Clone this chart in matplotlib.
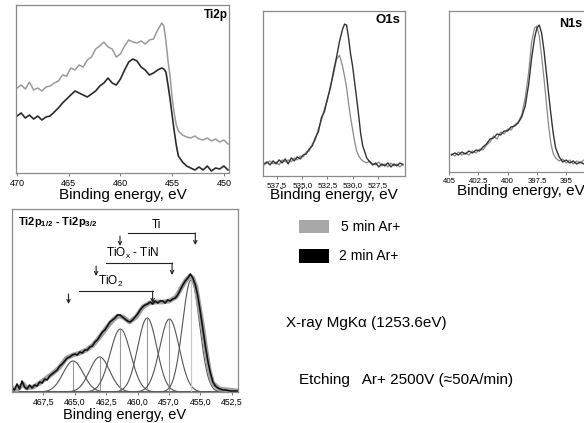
import numpy as np
import matplotlib.pyplot as plt
from matplotlib.patches import Rectangle

W, H = 584, 423
plt.rcParams['font.family'] = ['Liberation Sans', 'DejaVu Sans']
plt.rcParams['mathtext.fontset'] = 'custom'
plt.rcParams['mathtext.rm'] = 'Liberation Sans'
plt.rcParams['mathtext.bf'] = 'Liberation Sans:bold'

# ---- Ti2p survey (top left) ----
ti_e = [470.0, 469.6, 469.2, 468.8, 468.4, 468.0, 467.6, 467.2, 466.8, 466.4, 466.0,
        465.6, 465.2, 464.8, 464.4, 464.0, 463.6, 463.2, 462.8, 462.4, 462.0, 461.6,
        461.2, 460.8, 460.4, 460.0, 459.6, 459.2, 458.8, 458.4, 458.0, 457.6, 457.2,
        456.8, 456.4, 456.0, 455.8, 455.6, 455.4, 455.2, 455.0, 454.8, 454.6, 454.4,
        454.0, 453.6, 453.2, 452.8, 452.4, 452.0, 451.6, 451.2, 450.8, 450.4, 450.0, 449.6]
ti_5min = [85, 88, 84, 91, 83, 85, 82, 86, 87, 90, 92,
           98, 97, 105, 103, 108, 106, 113, 116, 124, 127, 131,
           126, 124, 116, 119, 127, 133, 131, 130, 132, 129, 133,
           134, 143, 150, 147, 132, 112, 97, 75, 60, 48, 42,
           38, 36, 35, 37, 34, 33, 35, 32, 34, 31, 33, 29]
ti_2min = [57, 60, 55, 58, 54, 57, 53, 56, 57, 61, 65,
           70, 74, 78, 82, 80, 78, 76, 79, 82, 87, 90,
           95, 90, 88, 94, 103, 111, 114, 112, 106, 103, 98,
           100, 103, 105, 104, 101, 88, 74, 58, 42, 28, 17,
           11, 7, 5, 3, 6, 3, 7, 2, 5, 4, 7, 3]

# ---- O1s ----
o_e = [538.8, 538.5, 538.2, 537.9, 537.6, 537.3, 537.0, 536.7, 536.4, 536.1, 535.8,
       535.5, 535.2, 534.9, 534.6, 534.3, 534.0, 533.7, 533.4, 533.1, 532.8, 532.5,
       532.2, 531.9, 531.6, 531.3, 531.0, 530.8, 530.6, 530.4, 530.2, 530.0, 529.8,
       529.6, 529.4, 529.2, 529.0, 528.8, 528.6, 528.3, 528.0, 527.7, 527.4, 527.1,
       526.8, 526.5, 526.2, 525.9, 525.6, 525.3, 525.0]
o_2min = [12, 14, 11, 15, 12, 16, 13, 17, 12, 18, 15,
          19, 17, 21, 22, 27, 30, 38, 44, 58, 64, 77,
          88, 104, 118, 134, 146, 151, 150, 137, 121, 109, 93,
          77, 60, 42, 30, 24, 18, 14, 11, 13, 9, 12,
          10, 13, 9, 12, 10, 13, 11]
o_5min = [11, 13, 15, 12, 14, 11, 16, 14, 16, 14, 18,
          16, 20, 19, 24, 25, 32, 36, 47, 55, 67, 75,
          90, 101, 116, 120, 109, 99, 88, 72, 58, 46, 34,
          25, 20, 17, 15, 14, 13, 15, 12, 11, 14, 10,
          12, 9, 13, 10, 12, 9, 12]

# ---- N1s ----
n_e = [404.8, 404.5, 404.2, 403.9, 403.6, 403.3, 403.0, 402.7, 402.4, 402.1, 401.8,
       401.5, 401.2, 400.9, 400.6, 400.3, 400.0, 399.7, 399.4, 399.1, 398.8, 398.5,
       398.2, 397.95, 397.7, 397.5, 397.3, 397.1, 396.9, 396.7, 396.5, 396.3, 396.1,
       395.9, 395.6, 395.3, 395.0, 394.7, 394.4, 394.1, 393.8, 393.5, 393.2]
n_5min = [18, 16, 20, 17, 19, 17, 21, 19, 23, 22, 27,
          30, 36, 33, 40, 38, 43, 42, 47, 50, 57, 74,
          100, 130, 144, 146, 136, 116, 94, 70, 46, 28, 18,
          14, 11, 13, 9, 12, 8, 11, 9, 12, 10]
n_2min = [17, 19, 17, 20, 18, 21, 19, 22, 21, 25, 28,
          33, 34, 38, 37, 41, 41, 45, 46, 49, 55, 66,
          88, 114, 134, 144, 147, 139, 122, 100, 78, 57, 38,
          24, 15, 10, 12, 9, 11, 8, 10, 8, 11]

# ---- Ti2p deconvolution (bottom left) ----
fit_e = [470.0, 469.63, 469.37, 469.1, 468.84, 468.31, 467.78, 467.25, 466.72, 466.19,
         465.66, 465.13, 464.6, 464.07, 463.54, 463.02, 462.49, 461.96, 461.56, 461.17,
         460.64, 460.11, 459.58, 459.05, 458.52, 457.99, 457.46, 456.93, 456.53, 456.13,
         455.81, 455.6, 455.34, 455.08, 454.81, 454.55, 454.29, 454.02, 453.49, 452.7, 452.0]
fit_y = [4, 2, 5, 8, 4, 5, 9, 14, 19, 25,
         34, 37, 39, 42, 47, 55, 64, 72, 76, 75,
         70, 75, 85, 89, 90, 90, 91, 95, 104, 112,
         116, 114, 105, 85, 65, 42, 22, 9, 3, 2, 1]
meas_e = [470.0, 469.8, 469.6, 469.4, 469.2, 469.0, 468.8, 468.6, 468.4, 468.2, 468.0,
          467.8, 467.6, 467.4, 467.2, 467.0, 466.8, 466.6, 466.4, 466.2, 466.0, 465.8,
          465.6, 465.4, 465.2, 465.0, 464.8, 464.6, 464.4, 464.2, 464.0, 463.8, 463.6,
          463.4, 463.2, 463.0, 462.8, 462.6, 462.4, 462.2, 462.0, 461.8, 461.6, 461.4,
          461.2, 461.0, 460.8, 460.6, 460.4, 460.2, 460.0, 459.8, 459.6, 459.4, 459.2,
          459.0, 458.8, 458.6, 458.4, 458.2, 458.0, 457.8, 457.6, 457.4, 457.2, 457.0,
          456.8, 456.6, 456.4, 456.2, 456.0, 455.8, 455.6, 455.4, 455.2, 455.0, 454.8,
          454.6, 454.4, 454.2, 454.0, 453.8, 453.6, 453.4, 453.2, 453.0, 452.6, 452.0]
meas_y = [4, 2, 8, 3, 11, 5, 3, 7, 4, 7, 6,
          10, 9, 13, 12, 16, 18, 20, 22, 26, 28, 31,
          34, 35, 37, 38, 37, 40, 39, 42, 42, 45, 46,
          50, 52, 56, 60, 62, 66, 70, 72, 74, 77, 77,
          75, 73, 71, 70, 72, 75, 78, 82, 85, 87, 88,
          90, 88, 91, 89, 91, 91, 89, 92, 91, 93, 94,
          97, 102, 107, 111, 114, 118, 114, 107, 96, 80, 63,
          46, 31, 19, 10, 6, 4, 3, 2, 2, 1, 1]
peak_c = [465.13, 463.02, 461.37, 459.23, 457.46, 455.74]
peak_h = [31, 35, 63, 74, 73, 112]
peak_s = [0.8, 0.8, 0.82, 0.76, 0.78, 0.68]

states = ['Ti', r'TiO$_\mathrm{x}$ - TiN', 'TiO$_2$']
state_left = [461.4, 463.3, 465.5]
state_right = [455.4, 457.25, 458.8]
bracket_start = [460.8, 462.55, 464.7]
state_level = [159, 129, 101]
state_text_e = [458.5, 460.4, 462.15]


def px_axes(fig, x0, y0, x1, y1):
    return fig.add_axes([x0 / W, 1 - y1 / H, (x1 - x0) / W, (y1 - y0) / H])


def style(ax, xlim, ylim, ticks, labels, tick_fs, pad, labelpad, label_fs=11):
    ax.set_xlim(*xlim)
    ax.set_ylim(*ylim)
    ax.set_yticks([])
    ax.set_xticks(ticks)
    ax.set_xticklabels(labels, fontsize=tick_fs)
    ax.tick_params(axis='x', length=2.5, width=0.7, color='#777', pad=pad)
    for sp in ax.spines.values():
        sp.set_color('#8a8a8a')
        sp.set_linewidth(0.9)
    ax.set_xlabel('Binding energy, eV', fontsize=label_fs, labelpad=labelpad)


fig = plt.figure(figsize=(W / 100, H / 100), dpi=100)

# Ti2p
ax1 = px_axes(fig, 16, 5, 229, 173)
ax1.plot(ti_e, ti_5min, color='#9a9a9a', lw=1.1)
ax1.plot(ti_e, ti_2min, color='#2a2a2a', lw=1.2)
style(ax1, (470.1, 449.5), (0, 168), [470, 465, 460, 455, 450],
      ['470', '465', '460', '455', '450'], 6.5, 2.0, -0.5)
ax1.text(0.995, 0.94, 'Ti2p', transform=ax1.transAxes, ha='right', va='center',
         fontsize=8.5, fontweight='bold')

# O1s
ax2 = px_axes(fig, 263, 11, 405, 176)
ax2.plot(o_e, o_5min, color='#8a8a8a', lw=0.9)
ax2.plot(o_e, o_2min, color='#333333', lw=1.0)
style(ax2, (538.9, 524.8), (0, 164), [537.5, 535, 532.5, 530, 527.5],
      ['537,5', '535,0', '532,5', '530,0', '527,5'], 5.8, 1.5, -0.5)
ax2.text(0.965, 0.945, 'O1s', transform=ax2.transAxes, ha='right', va='center',
         fontsize=9.5, fontweight='bold')

# N1s
ax3 = px_axes(fig, 449, 11, 592, 172)
ax3.plot(n_e, n_5min, color='#8a8a8a', lw=0.9)
ax3.plot(n_e, n_2min, color='#333333', lw=1.0)
style(ax3, (404.9, 392.8), (0, 161), [405, 402.5, 400, 397.5, 395],
      ['405', '402.5', '400', '397.5', '395'], 5.6, 1.5, -0.5)
ax3.text(0.93, 0.92, 'N1s', transform=ax3.transAxes, ha='right', va='center',
         fontsize=9, fontweight='bold')

# Deconvolution
ax4 = px_axes(fig, 12, 209, 238, 392)
grid = np.linspace(470, 452, 600)
for c, h, s in zip(peak_c, peak_h, peak_s):
    ax4.plot(grid, h * np.exp(-0.5 * ((grid - c) / s) ** 2), color='#555', lw=0.8)
    ax4.plot([c, c], [0, h], color='#999' if c > 456 else '#c8c8c8', lw=0.8)
ax4.plot(fit_e, fit_y, color='#a0a0a0', lw=3.4, solid_joinstyle='round')
ax4.plot(meas_e, meas_y, color='#111', lw=1.2)
style(ax4, (470, 452), (0, 183), [467.5, 465, 462.5, 460, 457.5, 455, 452.5],
      ['467,5', '465,0', '462,5', '460,0', '457,0', '455,0', '452,5'], 6.2, 2.0, 0.5,
      label_fs=10.5)
ax4.text(469.5, 170, r'$\mathbf{Ti2p_{1/2}}$ - $\mathbf{Ti2p_{3/2}}$', ha='left',
         va='center', fontsize=8, fontweight='bold')

arrow = dict(arrowstyle='->', lw=0.8, color='#222', mutation_scale=6, shrinkA=0, shrinkB=0)
for name, le, re, bs, lev, te in zip(states, state_left, state_right, bracket_start,
                                     state_level, state_text_e):
    ax4.plot([bs, re], [lev, lev], color='#222', lw=0.8)
    ax4.annotate('', xy=(re, lev - 12), xytext=(re, lev), arrowprops=arrow)
    ax4.annotate('', xy=(le, lev - 13), xytext=(le, lev - 3), arrowprops=arrow)
    ax4.text(te, lev + 2, name, ha='center', va='bottom', fontsize=8.5)

# legend and notes
fig.add_artist(Rectangle((299 / W, 1 - 233 / H), 30 / W, 13 / H, transform=fig.transFigure,
                         facecolor='#a8a8a8', edgecolor='none'))
fig.add_artist(Rectangle((299 / W, 1 - 263 / H), 30 / W, 14 / H, transform=fig.transFigure,
                         facecolor='#000000', edgecolor='none'))
fig.text(341 / W, 1 - 227 / H, '5 min Ar+', fontsize=10, va='center')
fig.text(339 / W, 1 - 256 / H, '2 min Ar+', fontsize=10, va='center')
fig.text(286 / W, 1 - 323 / H, 'X-ray MgK\u03b1 (1253.6eV)', fontsize=11, va='center')
fig.text(299 / W, 1 - 380 / H, 'Etching   Ar+ 2500V (\u224850A/min)', fontsize=11, va='center')

fig.savefig('out.png', dpi=100)
